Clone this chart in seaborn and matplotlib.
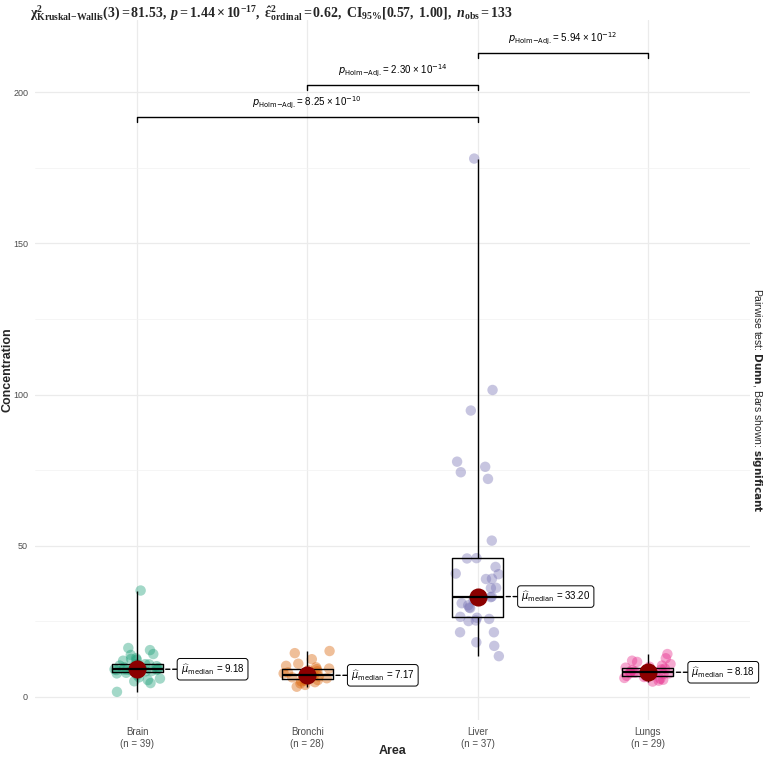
import numpy as np
import pandas as pd
import seaborn as sns
import matplotlib.pyplot as plt
from matplotlib.ticker import MultipleLocator

# ---------------- data ----------------
areas = ["Brain", "Bronchi", "Liver", "Lungs"]
brain = [1.7, 4.6, 5.2, 5.6, 6.1, 6.5, 7.2, 7.8, 8.0, 8.3, 8.5, 8.6, 8.8, 8.9, 9.0,
         9.05, 9.1, 9.15, 9.17, 9.18, 9.4, 9.6, 9.8, 10.0, 10.2, 10.4, 10.6, 10.8,
         10.85, 10.9, 12.0, 12.3, 12.6, 12.8, 13.9, 14.2, 15.5, 16.2, 35.2]
bronchi = [3.4, 4.0, 4.5, 4.9, 5.2, 5.4, 5.6, 5.9, 6.2, 6.5, 6.8, 7.0, 7.1, 7.15,
           7.19, 7.4, 7.8, 8.1, 8.5, 8.9, 9.2, 9.4, 9.8, 10.3, 11.0, 12.5, 14.5, 15.2]
liver = [13.5, 16.9, 18.1, 21.4, 21.4, 25.1, 25.3, 25.8, 26.2, 26.5, 29.4, 29.6,
         30.3, 31.0, 32.1, 32.8, 33.0, 33.2, 33.2, 33.5, 36.0, 36.1, 39.0, 39.1,
         40.6, 40.8, 43.0, 45.8, 45.9, 51.7, 72.1, 74.3, 76.1, 77.8, 94.7, 101.5, 178.0]
lungs = [5.1, 5.4, 5.7, 6.0, 6.3, 6.6, 6.8, 7.0, 7.2, 7.4, 7.6, 7.8, 7.9, 8.0, 8.18,
         8.3, 8.5, 8.7, 8.9, 9.1, 9.4, 9.7, 10.0, 10.4, 10.9, 11.6, 12.0, 12.8, 14.2]
groups = [brain, bronchi, liver, lungs]
median_labels = ["9.18", "7.17", "33.20", "8.18"]

pairs = [("Brain", "Liver"), ("Bronchi", "Liver"), ("Liver", "Lungs")]
pair_mantissa = ["8.25", "2.30", "5.94"]
pair_exponent = ["-10", "-14", "-12"]
bracket_y = [191.7, 202.3, 213.0]

palette = ["#1B9E77", "#D95F02", "#7570B3", "#E7298A"]

title = (r"$\mathbf{\chi^2_{Kruskal{-}Wallis}(3) = 81.53,}\ \mathbfit{p}\mathbf{= 1.44 \times 10^{-17},}"
         r"\ \mathbf{\hat{\varepsilon}^2_{ordinal} = 0.62,\ CI_{95\%}[0.57,\ 1.00],}\ "
         r"\mathbfit{n}_{\mathbf{obs}}\mathbf{= 133}$")

# ---------------- style ----------------
sns.set_theme(style="whitegrid")
plt.rcParams.update({
    "font.family": ["Liberation Sans", "DejaVu Sans"],
    "mathtext.fontset": "dejavusans",
    "mathtext.rm": "Liberation Serif",
    "mathtext.it": "Liberation Serif:italic",
    "mathtext.bf": "Liberation Serif:bold",
    "mathtext.bfit": "Liberation Serif:italic:bold",
})

df = pd.DataFrame({
    "Area": np.repeat(areas, [len(g) for g in groups]),
    "Concentration": np.concatenate(groups),
})

fig = plt.figure(figsize=(7.65, 7.59), dpi=100)
ax = fig.add_axes([0.0458, 0.0514, 0.9346, 0.9222])

np.random.seed(7)
sns.stripplot(data=df, x="Area", y="Concentration", hue="Area", palette=palette,
              jitter=0.14, size=7.5, alpha=0.4, linewidth=0, ax=ax, legend=False,
              zorder=2)
sns.boxplot(data=df, x="Area", y="Concentration", width=0.3, whis=(0, 100),
            showfliers=False, showcaps=False, fill=False, color="black",
            linewidth=1.0, medianprops=dict(linewidth=1.6), ax=ax)
sns.pointplot(data=df, x="Area", y="Concentration", estimator="median",
              errorbar=None, color="#8B0000", markers="o", linestyle="none",
              markersize=11, ax=ax)

# median labels
for i, (g, lab) in enumerate(zip(groups, median_labels)):
    med = float(np.median(g))
    ax.annotate(r"$\widehat{\mu}_{\mathrm{median}}$ = " + lab,
                xy=(i + 0.16, med), xytext=(i + 0.255, med),
                ha="left", va="center", fontsize=7, color="black",
                bbox=dict(boxstyle="round,pad=0.35,rounding_size=0.3", fc="white",
                          ec="black", lw=0.7),
                arrowprops=dict(arrowstyle="-", linestyle=(0, (3, 2)), lw=1.0,
                                color="black", shrinkA=0, shrinkB=0),
                zorder=6)

# significance brackets
for (a, b), m, e, y in zip(pairs, pair_mantissa, pair_exponent, bracket_y):
    x1, x2 = areas.index(a), areas.index(b)
    ax.plot([x1, x1, x2, x2], [y - 1.6, y, y, y - 1.6], color="black", lw=1.0,
            zorder=5)
    ax.text((x1 + x2) / 2, y + 2.0,
            r"$p_{\mathrm{Holm{-}Adj.}}$= " + m + r" × 10$^{" + e + "}$",
            ha="center", va="bottom", fontsize=7, color="black")

# axes
ax.set_xlim(-0.6, 3.6)
ax.set_ylim(-7.6, 223.8)
ax.yaxis.set_major_locator(MultipleLocator(50))
ax.yaxis.set_minor_locator(MultipleLocator(25))
ax.set_xticks(range(len(groups)))
ax.set_xticklabels([f"{a}\n(n = {len(g)})" for a, g in zip(areas, groups)])
ax.grid(which="major", color="#EBEBEB", lw=0.9)
ax.grid(which="minor", axis="y", color="#F2F2F2", lw=0.5)
ax.tick_params(axis="both", which="major", length=3, width=0.6, color="#333333",
               labelcolor="#4D4D4D", labelsize=7, pad=2)
ax.tick_params(axis="y", labelsize=6.5)
ax.tick_params(which="minor", length=0)
for s in ax.spines.values():
    s.set_visible(False)
ax.set_xlabel("Area", fontsize=9, fontweight="bold")
ax.set_ylabel("Concentration", fontsize=9, fontweight="bold")
ax.xaxis.set_label_coords(0.5, -0.036)
ax.yaxis.set_label_coords(-0.030, 0.5)

fig.text(0.039, 0.977, title, ha="left", va="baseline", fontsize=10,
         math_fontfamily="custom")
fig.text(0.990, 0.473,
         r"Pairwise test: $\mathbf{Dunn}$, Bars shown: $\mathbf{significant}$",
         rotation=-90, ha="center", va="center", fontsize=7.5)

fig.savefig("out.png", dpi=100)
